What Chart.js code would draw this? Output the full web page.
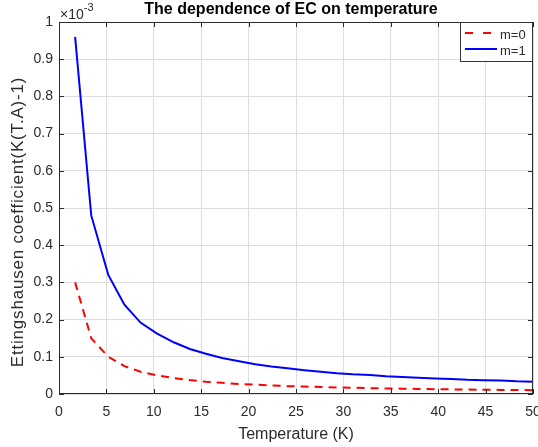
<!DOCTYPE html>
<html>
<head>
<meta charset="utf-8">
<script src="https://cdn.jsdelivr.net/npm/chart.js@4"></script>
<style>
  body { margin: 0; background: #fff; }
  #wrap { width: 538px; height: 447px; }
</style>
</head>
<body>
<div id="wrap"><canvas id="chart"></canvas></div>
<script>
// temperature (K)
const temps = [1.7, 3.4, 5.2, 6.9, 8.6, 10.3, 12.1, 13.8, 15.5, 17.2, 19.0, 20.7, 22.4, 24.1, 25.9,
               27.6, 29.3, 31.0, 32.8, 34.5, 36.2, 37.9, 39.7, 41.4, 43.1, 44.8, 46.6, 48.3, 50.0];
// Ettingshausen coefficient, in units of 1e-3
const ecM0 = [0.30, 0.15, 0.10, 0.075, 0.06, 0.05, 0.043, 0.0375, 0.033, 0.030, 0.027, 0.025, 0.023, 0.021, 0.020,
              0.019, 0.0176, 0.0167, 0.0158, 0.015, 0.0143, 0.0136, 0.013, 0.0125, 0.012, 0.0115, 0.011, 0.0107, 0.0103];
const ecM1 = [0.96, 0.48, 0.32, 0.24, 0.192, 0.163, 0.139, 0.121, 0.108, 0.097, 0.088, 0.080, 0.074, 0.069, 0.064,
              0.060, 0.056, 0.053, 0.051, 0.048, 0.046, 0.044, 0.042, 0.040, 0.038, 0.037, 0.036, 0.034, 0.033];
const seriesNames = ["m=0", "m=1"];
const xTicks = [0, 5, 10, 15, 20, 25, 30, 35, 40, 45, 50];
const yTicks = [0, 0.1, 0.2, 0.3, 0.4, 0.5, 0.6, 0.7, 0.8, 0.9, 1];
const titleText = "The dependence of EC on temperature";
const xTitle = "Temperature (K)";
const yTitle = "Ettingshausen coefficient(K(T.A)-1)";

const fontFam = "'Liberation Sans', Arial, sans-serif";
const txt = "#2b2b2b";

function pts(ys) {
    return temps.map((t, i) => ({ x: t, y: ys[i] }));
}

// matlab look: inner ticks, box, titles, exponent and legend
const matlabBits = {
    id: "matlabBits",
    afterDatasetsDraw(chart) {
        const ctx = chart.ctx;
        const a = chart.chartArea;
        const xs = chart.scales.x, ys = chart.scales.y;
        ctx.save();
        ctx.strokeStyle = txt;
        ctx.lineWidth = 1;
        ctx.beginPath();
        xTicks.forEach(v => {
            const px = Math.round(xs.getPixelForValue(v)) + 0.5;
            ctx.moveTo(px, a.bottom); ctx.lineTo(px, a.bottom - 5);
            ctx.moveTo(px, a.top); ctx.lineTo(px, a.top + 5);
        });
        yTicks.forEach(v => {
            const py = Math.round(ys.getPixelForValue(v)) + 0.5;
            ctx.moveTo(a.left, py); ctx.lineTo(a.left + 5, py);
            ctx.moveTo(a.right, py); ctx.lineTo(a.right - 5, py);
        });
        ctx.stroke();
        ctx.strokeRect(Math.round(a.left) + 0.5, Math.round(a.top) + 0.5,
                       Math.round(a.right - a.left) - 1, Math.round(a.bottom - a.top) - 1);

        // titles
        ctx.textBaseline = "alphabetic";
        ctx.textAlign = "center";
        ctx.fillStyle = "#000";
        ctx.font = "bold 16px " + fontFam;
        ctx.fillText(titleText, (a.left + a.right) / 2 - 5, 14);

        ctx.fillStyle = txt;
        ctx.font = "16px " + fontFam;
        ctx.fillText(xTitle, (a.left + a.right) / 2, 439);

        ctx.save();
        ctx.translate(23, 222);
        ctx.rotate(-Math.PI / 2);
        ctx.font = "17px " + fontFam;
        ctx.letterSpacing = "0.8px";
        ctx.fillText(yTitle, 0, 0);
        ctx.restore();

        // x10^-3
        ctx.textAlign = "left";
        ctx.font = "14px " + fontFam;
        ctx.fillText("\u00d710", a.left + 1, a.top - 3);
        const w = ctx.measureText("\u00d710").width;
        ctx.font = "11px " + fontFam;
        ctx.fillText("-3", a.left + 1 + w, a.top - 11);

        // legend
        const lw = 73, lh = 40;
        const lx = a.right - lw, ly = a.top;
        ctx.fillStyle = "#fff";
        ctx.fillRect(lx, ly, lw, lh);
        ctx.strokeStyle = "#333";
        ctx.strokeRect(Math.round(lx) + 0.5, Math.round(ly) + 0.5, lw - 1, lh - 1);
        chart.data.datasets.forEach((ds, i) => {
            const yy = ly + 11 + i * 16;
            ctx.save();
            ctx.strokeStyle = ds.borderColor;
            ctx.lineWidth = 2;
            ctx.setLineDash(i === 0 ? [8, 10] : []);
            ctx.beginPath();
            ctx.moveTo(lx + 5, yy); ctx.lineTo(lx + (i === 0 ? 32 : 37), yy);
            ctx.stroke();
            ctx.restore();
            ctx.fillStyle = txt;
            ctx.font = "13px " + fontFam;
            ctx.textBaseline = "middle";
            ctx.fillText(ds.label, lx + 40, yy + 2);
        });
        ctx.restore();
    }
};

const ctx = document.getElementById("chart").getContext("2d");
new Chart(ctx, {
    type: "line",
    data: {
        datasets: [
            {
                label: seriesNames[0],
                data: pts(ecM0),
                borderColor: "#ff0000",
                borderWidth: 2,
                borderDash: [8, 6],
                pointRadius: 0,
                tension: 0
            },
            {
                label: seriesNames[1],
                data: pts(ecM1),
                borderColor: "#0000ff",
                borderWidth: 2,
                pointRadius: 0,
                tension: 0
            }
        ]
    },
    options: {
        responsive: true,
        maintainAspectRatio: false,
        animation: false,
        layout: { padding: { left: 0, right: 5, top: 22, bottom: 0 } },
        plugins: {
            legend: { display: false },
            tooltip: { enabled: false },
            title: { display: false }
        },
        scales: {
            x: {
                type: "linear",
                min: 0,
                max: 50,
                afterBuildTicks: s => { s.ticks = xTicks.map(v => ({ value: v })); },
                afterFit: s => { s.height = 53; s.paddingLeft = 0; s.paddingRight = 0; },
                ticks: {
                    color: txt,
                    font: { family: fontFam, size: 14 },
                    padding: 10,
                    maxRotation: 0
                },
                grid: { color: "#dedede", drawTicks: false },
                border: { display: false }
            },
            y: {
                type: "linear",
                min: 0,
                max: 1,
                afterBuildTicks: s => { s.ticks = yTicks.map(v => ({ value: v })); },
                afterFit: s => { s.width = 59; s.paddingTop = 0; s.paddingBottom = 0; },
                ticks: {
                    color: txt,
                    font: { family: fontFam, size: 14 },
                    padding: 6,
                    callback: v => String(Math.round(v * 10) / 10)
                },
                grid: { color: "#dedede", drawTicks: false },
                border: { display: false }
            }
        }
    },
    plugins: [matlabBits]
});
</script>
</body>
</html>
